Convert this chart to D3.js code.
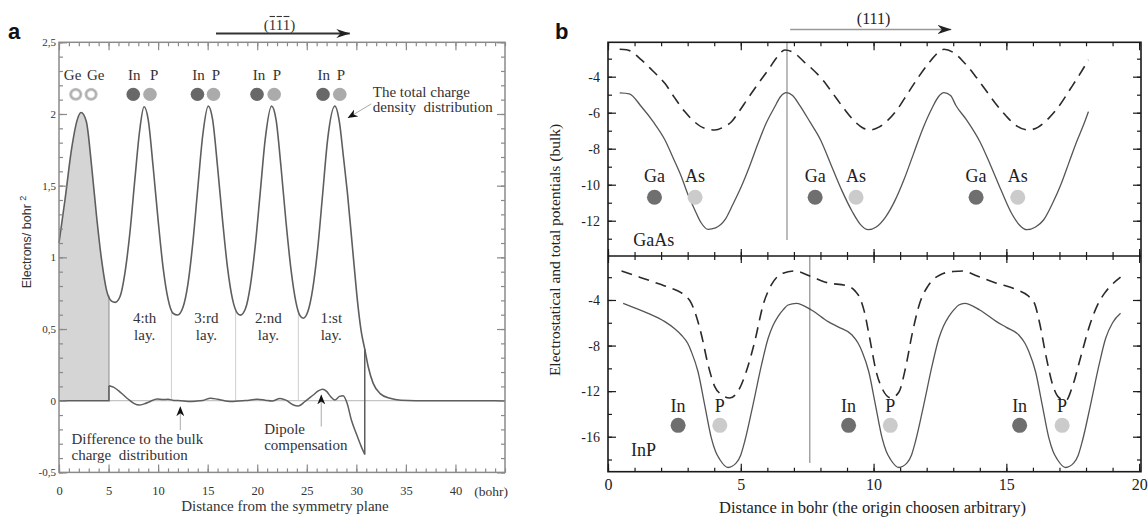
<!DOCTYPE html>
<html>
<head>
<meta charset="utf-8">
<script src="https://cdn.jsdelivr.net/npm/d3@7"></script>
<style>
  body { margin: 0; background: #fff; }
  svg { display: block; }
  text { font-family: "Liberation Serif", "Times New Roman", serif; }
</style>
</head>
<body>
<svg id="fig" width="1148" height="521"></svg>
<script>
// ---------- panel a data (bohr, electrons/bohr^2) ----------
const totalCharge = [
  [0, 1.10], [0.6, 1.40], [1.3, 1.77], [1.8, 1.95], [2.23, 2.01], [2.75, 1.95], [3.3, 1.63],
  [3.8, 1.28], [4.3, 0.98], [4.8, 0.77], [5.3, 0.695], [5.66, 0.686], [6.15, 0.725], [6.65, 0.89],
  [7.15, 1.17], [7.65, 1.54], [8.15, 1.89], [8.58, 2.05], [9.0, 1.96], [9.5, 1.63], [10.0, 1.26],
  [10.5, 0.93], [11.0, 0.71], [11.5, 0.61], [11.97, 0.598], [12.5, 0.65], [13.0, 0.81], [13.5, 1.10],
  [14.0, 1.48], [14.5, 1.85], [15.06, 2.055], [15.5, 1.96], [16.0, 1.63], [16.5, 1.26], [17.0, 0.93],
  [17.5, 0.71], [18.0, 0.61], [18.3, 0.597], [18.8, 0.64], [19.3, 0.80], [19.8, 1.08], [20.3, 1.45],
  [20.8, 1.82], [21.45, 2.055], [21.9, 1.96], [22.4, 1.63], [22.9, 1.25], [23.4, 0.92], [23.9, 0.69],
  [24.3, 0.595], [24.64, 0.575], [25.1, 0.62], [25.6, 0.78], [26.1, 1.06], [26.6, 1.44], [27.1, 1.82],
  [27.83, 2.055], [28.3, 1.94], [28.7, 1.7], [29.1, 1.45], [29.7, 1.0], [30.2, 0.64], [30.5, 0.48],
  [30.85, 0.36], [31.2, 0.237], [31.7, 0.121], [32.4, 0.05], [33.4, 0.017], [34.5, 0.003], [36, 0], [45, 0]
];
const bulkDifference = [
  [5.04, 0.105], [5.5, 0.095], [6.0, 0.07], [6.5, 0.04], [7.0, 0.01], [7.6, -0.02], [8.1, -0.03],
  [8.6, -0.022], [9.2, -0.005], [9.9, 0.012], [10.5, 0.008], [11.0, 0.01], [11.6, 0.002], [12.3, 0],
  [13.0, -0.005], [13.8, -0.003], [14.5, 0.002], [15.3, 0.018], [16.0, 0.01], [16.8, -0.002],
  [17.6, -0.006], [18.4, 0], [19.2, 0.004], [20.0, 0.01], [20.8, 0.004], [21.5, -0.002], [22.3, 0.016],
  [22.9, 0.004], [23.6, -0.028], [24.15, -0.037], [24.8, -0.007], [25.65, 0.04], [26.2, 0.07],
  [26.6, 0.08], [27.0, 0.065], [27.4, 0.03], [27.83, 0.005], [28.3, 0.03], [28.67, 0.035],
  [29.07, -0.018], [29.5, -0.135], [30.0, -0.23], [30.5, -0.32], [30.85, -0.375]
];
const bulkEdge = 5.04;                 // end of the bulk (shaded) region
const layerBounds = [11.34, 17.82, 24.15];
const layerNames = [["4:th", 8.64], ["3:rd", 14.87], ["2:nd", 21.13], ["1:st", 27.47]];
// [element, atom position, label position]
const atomsA = [
  ["Ge", 1.69, 1.37], ["Ge", 3.24, 3.71], ["In", 7.49, 7.6], ["P", 9.18, 9.61],
  ["In", 13.97, 14.07], ["P", 15.59, 15.84], ["In", 19.98, 20.19], ["P", 21.71, 21.99],
  ["In", 26.64, 26.71], ["P", 28.33, 28.44]
];
const xTicksA = d3.range(0, 41, 5);
const yTicksA = [-0.5, 0, 0.5, 1, 1.5, 2, 2.5];

// ---------- panel b data (bohr, potential) ----------
const gaasTotal = [
  [0.44, -4.9], [0.8, -4.95], [1.26, -5.67], [1.7, -6.5], [2.14, -7.5], [2.45, -8.5], [2.76, -9.54],
  [3.0, -10.5], [3.27, -11.4], [3.5, -12.1], [3.77, -12.48], [4.05, -12.4], [4.4, -11.96], [4.7, -11.1],
  [5.02, -10.1], [5.35, -8.9], [5.65, -7.7], [5.95, -6.6], [6.28, -5.67], [6.5, -5.1], [6.72, -4.89],
  [6.95, -5.05], [7.2, -5.55], [7.6, -6.5], [8.0, -7.5], [8.4, -8.9], [8.8, -10.3], [9.2, -11.5],
  [9.5, -12.2], [9.8, -12.5], [10.1, -12.35], [10.45, -11.8], [10.8, -10.9], [11.15, -9.7], [11.5, -8.3],
  [11.85, -6.9], [12.2, -5.75], [12.45, -5.1], [12.65, -4.89], [12.9, -5.05], [13.1, -5.6], [13.5, -6.4],
  [14.0, -7.6], [14.4, -8.9], [14.8, -10.3], [15.2, -11.6], [15.5, -12.25], [15.77, -12.5], [16.1, -12.35],
  [16.4, -11.96], [16.75, -11.0], [17.05, -10.0], [17.35, -8.8], [17.65, -7.6], [17.9, -6.7], [18.09, -5.94]
];
const gaasElectro = [
  [0.44, -2.48], [0.7, -2.5], [1.26, -3.07], [1.7, -3.7], [2.14, -4.37], [2.5, -5.15], [2.89, -5.94],
  [3.25, -6.5], [3.64, -6.87], [4.02, -6.96], [4.35, -6.8], [4.65, -6.5], [4.95, -5.9], [5.27, -5.2],
  [5.65, -4.4], [6.03, -3.63], [6.35, -2.95], [6.66, -2.52], [7.03, -2.7], [7.4, -3.2], [7.66, -3.53],
  [8.1, -4.2], [8.5, -5.0], [8.9, -5.8], [9.3, -6.5], [9.6, -6.85], [9.85, -6.96], [10.2, -6.8],
  [10.55, -6.4], [10.9, -5.8], [11.3, -4.9], [11.7, -4.0], [12.1, -3.2], [12.4, -2.7], [12.65, -2.48],
  [13.0, -2.65], [13.4, -3.2], [13.8, -3.9], [14.2, -4.7], [14.6, -5.5], [15.0, -6.2], [15.4, -6.75],
  [15.83, -6.96], [16.2, -6.8], [16.6, -6.3], [17.0, -5.6], [17.4, -4.7], [17.75, -3.9], [18.09, -3.07]
];
const inpTotal = [
  [0.57, -4.29], [1.0, -4.7], [1.51, -5.17], [2.14, -5.9], [2.5, -6.5], [2.76, -7.07], [3.0, -7.8],
  [3.14, -8.54], [3.39, -10.3], [3.64, -13.2], [3.89, -16.1], [4.05, -17.3], [4.21, -18.0], [4.52, -18.7],
  [4.83, -18.3], [5.0, -17.6], [5.15, -16.4], [5.46, -13.2], [5.78, -9.7], [6.03, -7.36], [6.2, -6.3],
  [6.4, -5.46], [6.6, -4.85], [6.78, -4.44], [7.09, -4.29], [7.66, -4.88], [8.29, -5.9], [8.7, -6.4],
  [9.19, -7.07], [9.42, -7.8], [9.57, -8.54], [9.82, -10.3], [10.07, -13.2], [10.32, -16.1], [10.48, -17.3],
  [10.64, -18.0], [10.95, -18.7], [11.26, -18.3], [11.43, -17.6], [11.58, -16.4], [11.89, -13.2],
  [12.21, -9.7], [12.46, -7.36], [12.63, -6.3], [12.83, -5.46], [13.03, -4.85], [13.21, -4.44],
  [13.43, -4.29], [14.0, -4.88], [14.63, -5.9], [15.0, -6.4], [15.47, -7.07], [15.7, -7.8], [15.85, -8.54],
  [16.1, -10.3], [16.35, -13.2], [16.6, -16.1], [16.76, -17.3], [16.92, -18.0], [17.23, -18.7],
  [17.54, -18.3], [17.71, -17.6], [17.86, -16.4], [18.17, -13.2], [18.49, -9.7], [18.74, -7.36],
  [19.0, -6.0], [19.3, -5.17]
];
const inpElectro = [
  [0.51, -1.46], [1.0, -1.85], [1.51, -2.25], [2.0, -2.65], [2.39, -2.98], [2.75, -3.35], [2.95, -3.71],
  [3.12, -4.2], [3.27, -5.03], [3.52, -7.07], [3.77, -9.7], [4.02, -11.6], [4.27, -12.3], [4.58, -12.6],
  [4.9, -12.0], [5.21, -10.25], [5.53, -7.6], [5.84, -4.44], [6.15, -2.68], [6.59, -1.65], [7.03, -1.46],
  [7.66, -1.96], [8.29, -2.5], [8.98, -2.75], [9.3, -3.2], [9.5, -3.9], [9.65, -5.0], [9.85, -7.3],
  [10.1, -10.3], [10.35, -11.9], [10.66, -12.6], [10.95, -12.1], [11.2, -10.0], [11.46, -6.9],
  [11.75, -4.2], [12.04, -2.8], [12.5, -1.8], [13.0, -1.5], [13.36, -1.46], [13.9, -1.9], [14.6, -2.5],
  [15.4, -3.1], [15.8, -3.6], [16.06, -4.3], [16.25, -6.0], [16.5, -9.0], [16.75, -11.5], [17.0, -12.6],
  [17.25, -12.8], [17.5, -11.5], [17.8, -9.0], [18.1, -6.5], [18.4, -4.6], [18.7, -3.4], [19.0, -2.6],
  [19.3, -2.0]
];
const gaasAtoms = [["Ga", 1.75], ["As", 3.28], ["Ga", 7.8], ["As", 9.34], ["Ga", 13.86], ["As", 15.43]];
const inpAtoms = [["In", 2.64], ["P", 4.21], ["In", 9.06], ["P", 10.63], ["In", 15.5], ["P", 17.1]];
const cellMarkTop = 6.74, cellMarkBottom = 7.6;
const xTicksB = [0, 5, 10, 15, 20];
const yTicksTop = [-12, -10, -8, -6, -4];
const yTicksBottom = [-16, -12, -8, -4];

// ---------- scales ----------
const xA = d3.scaleLinear([0, 45], [59, 505]);
const yA = d3.scaleLinear([-0.5, 2.5], [472.4, 42.3]);
const xB = d3.scaleLinear([0, 20.07], [608, 1141]);
const yBt = d3.scaleLinear([-13.96, -2.09], [256, 42.3]);
const yBb = d3.scaleLinear([-19.07, -0.14], [471.7, 256]);

const svg = d3.select("#fig");
const defs = svg.append("defs");

function head(id, color, w, h) {
  defs.append("marker").attr("id", id)
    .attr("viewBox", `0 0 ${w} ${h}`).attr("refX", w - 0.5).attr("refY", h / 2)
    .attr("markerWidth", w).attr("markerHeight", h)
    .attr("markerUnits", "userSpaceOnUse").attr("orient", "auto")
    .append("path").attr("d", `M0,0L${w},${h / 2}L0,${h}L${w * 0.3},${h / 2}Z`).attr("fill", color);
}
head("bigHead", "#222", 14, 9);
head("smallHead", "#111", 10, 8);

const ring = defs.append("radialGradient").attr("id", "geRing");
[[0, "#fff"], [0.4, "#fff"], [0.7, "#a8a8a8"], [0.9, "#c4c4c4"], [1, "#e0e0e0"]]
  .forEach(([o, c]) => ring.append("stop").attr("offset", o).attr("stop-color", c));

// linear read-off along a curve, for the short guide lines
function valueAt(data, x) {
  const i = d3.bisector(d => d[0]).left(data, x);
  const a = data[Math.max(i - 1, 0)], b = data[Math.min(i, data.length - 1)];
  if (a[0] === b[0]) return a[1];
  return a[1] + (b[1] - a[1]) * (x - a[0]) / (b[0] - a[0]);
}

function ticks(g, gen, values, size, fmt, pad) {
  const s = g.append("g").call(gen.tickValues(values).tickSize(size)
    .tickPadding(pad == null ? 3 : pad).tickFormat(fmt || (() => "")));
  s.select(".domain").remove();
  return s;
}

// ================= panel a =================
const ga = svg.append("g");
const aL = xA(0), aR = xA(45), aT = yA(2.5), aB = yA(-0.5);

defs.append("clipPath").attr("id", "bulkClip").append("rect")
  .attr("x", xA(0)).attr("y", aT).attr("width", xA(bulkEdge) - xA(0)).attr("height", yA(0) - aT);

ga.append("path").datum(totalCharge)
  .attr("clip-path", "url(#bulkClip)")
  .attr("fill", "#d5d5d5")
  .attr("d", d3.area().x(d => xA(d[0])).y0(yA(0)).y1(d => yA(d[1])).curve(d3.curveMonotoneX));

// zero line and layer separators
ga.append("line").attr("x1", xA(bulkEdge)).attr("x2", aR).attr("y1", yA(0)).attr("y2", yA(0))
  .attr("stroke", "#c4c4c4").attr("stroke-width", 1.2);
ga.selectAll(".layer").data(layerBounds).join("line")
  .attr("x1", d => xA(d)).attr("x2", d => xA(d))
  .attr("y1", yA(0)).attr("y2", d => yA(valueAt(totalCharge, d)))
  .attr("stroke", "#cfcfcf").attr("stroke-width", 1);
ga.append("line").attr("x1", xA(bulkEdge)).attr("x2", xA(bulkEdge))
  .attr("y1", yA(0)).attr("y2", yA(valueAt(totalCharge, bulkEdge)))
  .attr("stroke", "#9a9a9a").attr("stroke-width", 1.2);

const lineA = d3.line().x(d => xA(d[0])).y(d => yA(d[1])).curve(d3.curveMonotoneX);
ga.append("path").datum(totalCharge).attr("d", lineA)
  .attr("fill", "none").attr("stroke", "#5e5e5e").attr("stroke-width", 1.6);
ga.append("path").datum(bulkDifference).attr("d", lineA)
  .attr("fill", "none").attr("stroke", "#5e5e5e").attr("stroke-width", 1.5);
// difference curve inside bulk region sits on zero, then jumps at the edges
const lastDiff = bulkDifference[bulkDifference.length - 1];
ga.append("path")
  .attr("d", d3.line()([[xA(0), yA(0)], [xA(bulkEdge), yA(0)], [xA(bulkEdge), yA(bulkDifference[0][1])]]))
  .attr("fill", "none").attr("stroke", "#5e5e5e").attr("stroke-width", 1.5);
ga.append("line").attr("x1", xA(lastDiff[0])).attr("x2", xA(lastDiff[0]))
  .attr("y1", yA(lastDiff[1])).attr("y2", yA(valueAt(totalCharge, lastDiff[0])))
  .attr("stroke", "#5e5e5e").attr("stroke-width", 1.5);

// frame + ticks
ga.append("rect").attr("x", aL).attr("y", aT).attr("width", aR - aL).attr("height", aB - aT)
  .attr("fill", "none").attr("stroke", "#8a8a8a").attr("stroke-width", 1.5);
const fmtA = d => String(d).replace(".", ",");
const axA = ga.append("g");
ticks(axA.append("g").attr("transform", `translate(0,${aB})`), d3.axisBottom(xA), d3.range(0, 46), -4);
ticks(axA.append("g").attr("transform", `translate(0,${aB})`), d3.axisBottom(xA), xTicksA, -8, d => d, 14)
  .selectAll("text").style("font-size", "12.5px");
ticks(axA.append("g").attr("transform", `translate(0,${aT})`), d3.axisTop(xA), d3.range(0, 46), -4);
ticks(axA.append("g").attr("transform", `translate(0,${aT})`), d3.axisTop(xA), xTicksA, -8);
ticks(axA.append("g").attr("transform", `translate(${aL},0)`), d3.axisLeft(yA), d3.ticks(-0.5, 2.5, 30), -4);
ticks(axA.append("g").attr("transform", `translate(${aL},0)`), d3.axisLeft(yA), yTicksA, -8, fmtA, 3)
  .selectAll("text").style("font-size", "11px");
ticks(axA.append("g").attr("transform", `translate(${aR},0)`), d3.axisRight(yA), d3.ticks(-0.5, 2.5, 30), -4);
ticks(axA.append("g").attr("transform", `translate(${aR},0)`), d3.axisRight(yA), yTicksA, -8);
axA.selectAll("line").attr("stroke", "#8a8a8a").attr("stroke-width", 1.2);
axA.selectAll("text").attr("fill", "#333").style("font-family", "Liberation Serif");

ga.append("text").attr("x", xA(43.6)).attr("y", 496).attr("text-anchor", "middle")
  .style("font-size", "13.5px").attr("fill", "#333").text("(bohr)");
ga.append("text").attr("x", (aL + aR) / 2 + 3).attr("y", 511).attr("text-anchor", "middle")
  .style("font-size", "15px").attr("fill", "#333").text("Distance from the symmetry plane");
ga.append("text").attr("transform", "translate(31,242) rotate(-90)").attr("text-anchor", "middle")
  .style("font-family", "Liberation Sans").style("font-size", "12.5px").attr("fill", "#333")
  .text("Electrons/ bohr ").append("tspan").attr("dy", -5).style("font-size", "9px").text("2");

// atoms
ga.selectAll(".atomA").data(atomsA).join("ellipse")
  .attr("cx", d => xA(d[1])).attr("cy", yA(2.137)).attr("rx", 6.8).attr("ry", 6.6)
  .attr("fill", d => d[0] === "Ge" ? "url(#geRing)" : d[0] === "In" ? "#686868" : "#ababab");
ga.selectAll(".atomLabA").data(atomsA).join("text")
  .attr("x", d => xA(d[2])).attr("y", yA(2.236)).attr("text-anchor", "middle")
  .style("font-size", "15px").attr("fill", "#333").text(d => d[0]);

ga.selectAll(".layLab").data(layerNames).join("text")
  .attr("x", d => xA(d[1])).attr("y", yA(0.542)).attr("text-anchor", "middle")
  .style("font-size", "15px").attr("fill", "#333").text(d => d[0]);
ga.selectAll(".layLab2").data(layerNames).join("text")
  .attr("x", d => xA(d[1])).attr("y", yA(0.423)).attr("text-anchor", "middle")
  .style("font-size", "15px").attr("fill", "#333").text("lay.");

function multiline(g, x, ys, lines, anchor) {
  lines.forEach((t, i) => g.append("text").attr("x", x).attr("y", ys[i]).attr("text-anchor", anchor || "start")
    .style("font-size", "15px").attr("fill", "#333").text(t));
}
multiline(ga, xA(31.66), [yA(2.12), yA(2.015)], ["The total charge", "density\u00a0 distribution"]);
multiline(ga, xA(1.26), [yA(-0.302), yA(-0.413)], ["Difference to the bulk", "charge\u00a0 distribution"]);
multiline(ga, xA(20.7), [yA(-0.232), yA(-0.344)], ["Dipole", "compensation"]);

function arrow(g, p, q, color, mk, w) {
  g.append("line").attr("x1", p[0]).attr("y1", p[1]).attr("x2", q[0]).attr("y2", q[1])
    .attr("stroke", color).attr("stroke-width", w || 1).attr("marker-end", `url(#${mk})`);
}
arrow(ga, [xA(31.5), yA(2.07)], [xA(29.16), yA(1.973)], "#aaa", "smallHead");
arrow(ga, [xA(12.24), yA(-0.205)], [xA(12.24), yA(-0.042)], "#aaa", "smallHead");
arrow(ga, [xA(26.46), yA(-0.18)], [xA(26.46), yA(0.04)], "#aaa", "smallHead");

// direction arrow with barred Miller indices
arrow(ga, [xA(15.84), 33.5], [xA(29.34), 33.5], "#333", "bigHead", 1.8);
const miller = ga.append("text").attr("x", xA(22.25)).attr("y", 30).attr("text-anchor", "middle")
  .style("font-size", "15px").attr("fill", "#333").text("(111)");
[1, 2, 3].forEach(i => {
  const n = miller.node();
  const s = n.getStartPositionOfChar(i).x, e = n.getEndPositionOfChar(i).x;
  ga.append("line").attr("x1", s + 0.8).attr("x2", e - 0.8).attr("y1", 16.5).attr("y2", 16.5)
    .attr("stroke", "#333").attr("stroke-width", 1.1);
});

svg.append("text").attr("x", 8).attr("y", 39).style("font-family", "Liberation Sans")
  .style("font-weight", "bold").style("font-size", "22px").attr("fill", "#111").text("a");

// ================= panel b =================
const gb = svg.append("g");
const bL = xB(0), bR = xB(20.07), bT = yBt(-2.09), bM = yBt(-13.96), bB = yBb(-19.07);

gb.append("line").attr("x1", xB(cellMarkTop)).attr("x2", xB(cellMarkTop))
  .attr("y1", bT).attr("y2", yBt(-13.07)).attr("stroke", "#777").attr("stroke-width", 1);
gb.append("line").attr("x1", xB(cellMarkBottom)).attr("x2", xB(cellMarkBottom))
  .attr("y1", bM).attr("y2", yBb(-18.3)).attr("stroke", "#777").attr("stroke-width", 1);

const lineTop = d3.line().x(d => xB(d[0])).y(d => yBt(d[1])).curve(d3.curveMonotoneX);
const lineBot = d3.line().x(d => xB(d[0])).y(d => yBb(d[1])).curve(d3.curveMonotoneX);
gb.append("path").datum(gaasTotal).attr("d", lineTop)
  .attr("fill", "none").attr("stroke", "#555").attr("stroke-width", 1.3);
gb.append("path").datum(gaasElectro).attr("d", lineTop)
  .attr("fill", "none").attr("stroke", "#2a2a2a").attr("stroke-width", 1.6).attr("stroke-dasharray", "11,7");
gb.append("path").datum(inpTotal).attr("d", lineBot)
  .attr("fill", "none").attr("stroke", "#555").attr("stroke-width", 1.3);
gb.append("path").datum(inpElectro).attr("d", lineBot)
  .attr("fill", "none").attr("stroke", "#2a2a2a").attr("stroke-width", 1.6).attr("stroke-dasharray", "11,7");

// frame + ticks
gb.append("rect").attr("x", bL).attr("y", bT).attr("width", bR - bL).attr("height", bB - bT)
  .attr("fill", "none").attr("stroke", "#1a1a1a").attr("stroke-width", 1.6);
gb.append("line").attr("x1", bL).attr("x2", bR).attr("y1", bM).attr("y2", bM)
  .attr("stroke", "#1a1a1a").attr("stroke-width", 1.6);
const axB = gb.append("g");
const minorX = d3.range(0, 21);
ticks(axB.append("g").attr("transform", `translate(0,${bB})`), d3.axisBottom(xB), minorX, -4);
ticks(axB.append("g").attr("transform", `translate(0,${bB})`), d3.axisBottom(xB), xTicksB, -8, d => d, 7)
  .selectAll("text").style("font-size", "16px");
ticks(axB.append("g").attr("transform", `translate(0,${bT})`), d3.axisTop(xB), minorX, -4);
ticks(axB.append("g").attr("transform", `translate(0,${bT})`), d3.axisTop(xB), xTicksB, -8);
ticks(axB.append("g").attr("transform", `translate(0,${bM})`), d3.axisTop(xB), minorX, -4);
ticks(axB.append("g").attr("transform", `translate(0,${bM})`), d3.axisBottom(xB), minorX, -4);
ticks(axB.append("g").attr("transform", `translate(0,${bM})`), d3.axisTop(xB), xTicksB, -7);
ticks(axB.append("g").attr("transform", `translate(0,${bM})`), d3.axisBottom(xB), xTicksB, -7);
const minorTop = d3.range(-13, -2), minorBot = d3.range(-18, -1, 2);
[[bL, d3.axisLeft], [bR, d3.axisRight]].forEach(([x, gen]) => {
  const left = gen === d3.axisLeft;
  ticks(axB.append("g").attr("transform", `translate(${x},0)`), gen(yBt), minorTop, -4);
  ticks(axB.append("g").attr("transform", `translate(${x},0)`), gen(yBt), yTicksTop, -8, left ? (d => String(d)) : null, 8)
    .selectAll("text").style("font-size", "14px");
  ticks(axB.append("g").attr("transform", `translate(${x},0)`), gen(yBb), minorBot, -4);
  ticks(axB.append("g").attr("transform", `translate(${x},0)`), gen(yBb), yTicksBottom, -8, left ? (d => String(d)) : null, 8)
    .selectAll("text").style("font-size", "14px");
});
axB.selectAll("line").attr("stroke", "#1a1a1a").attr("stroke-width", 1.2);
axB.selectAll("text").attr("fill", "#222").style("font-family", "Liberation Serif");

// atoms
gb.selectAll(".atomT").data(gaasAtoms).join("ellipse")
  .attr("cx", d => xB(d[1])).attr("cy", yBt(-10.7)).attr("rx", 7.5).attr("ry", 7.5)
  .attr("fill", d => d[0] === "Ga" ? "#6f6f6f" : "#cbcbcb");
gb.selectAll(".atomLabT").data(gaasAtoms).join("text")
  .attr("x", d => xB(d[1])).attr("y", yBt(-9.83)).attr("text-anchor", "middle")
  .style("font-size", "18px").attr("fill", "#222").text(d => d[0]);
gb.selectAll(".atomB").data(inpAtoms).join("ellipse")
  .attr("cx", d => xB(d[1])).attr("cy", yBb(-15.0)).attr("rx", 7.5).attr("ry", 7.5)
  .attr("fill", d => d[0] === "In" ? "#6f6f6f" : "#cbcbcb");
gb.selectAll(".atomLabB").data(inpAtoms).join("text")
  .attr("x", d => xB(d[1])).attr("y", yBb(-13.8)).attr("text-anchor", "middle")
  .style("font-size", "18px").attr("fill", "#222").text(d => d[0]);
gb.append("text").attr("x", xB(0.95)).attr("y", yBt(-13.43)).style("font-size", "18px")
  .attr("fill", "#222").text("GaAs");
gb.append("text").attr("x", xB(0.87)).attr("y", yBb(-17.7)).style("font-size", "18px")
  .attr("fill", "#222").text("InP");

gb.append("text").attr("x", (bL + bR) / 2 - 2).attr("y", 513).attr("text-anchor", "middle")
  .style("font-size", "16.5px").attr("fill", "#222").text("Distance in bohr (the origin choosen arbitrary)");
gb.append("text").attr("transform", "translate(560,250) rotate(-90)").attr("text-anchor", "middle")
  .style("font-size", "15.5px").attr("fill", "#222").text("Electrostatical and total potentials (bulk)");

arrow(gb, [xB(6.86), 29.5], [xB(12.92), 29.5], "#999", "bigHead", 1.5);
gb.append("text").attr("x", xB(10.0)).attr("y", 24).attr("text-anchor", "middle")
  .style("font-size", "16px").attr("fill", "#222").text("(111)");

svg.append("text").attr("x", 555).attr("y", 39).style("font-family", "Liberation Sans")
  .style("font-weight", "bold").style("font-size", "22px").attr("fill", "#111").text("b");
</script>
</body>
</html>
